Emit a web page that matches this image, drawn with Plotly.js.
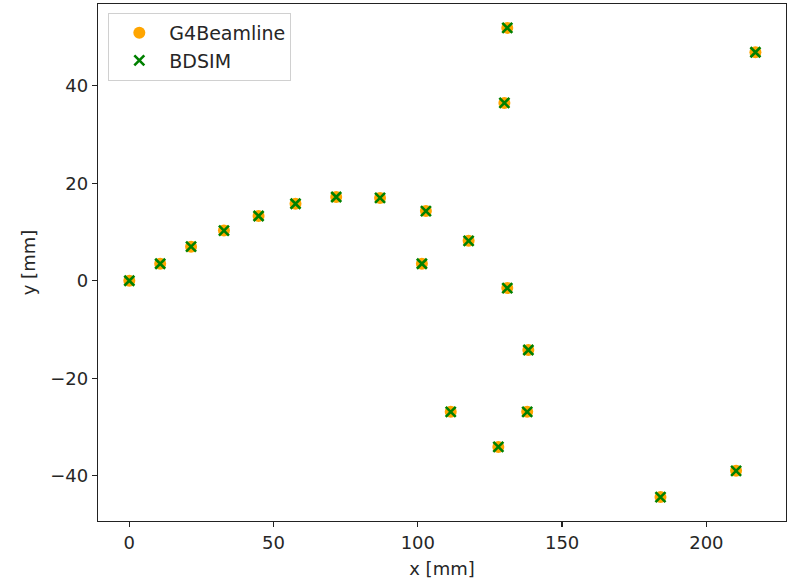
<!DOCTYPE html>
<html>
<head>
<meta charset="utf-8">
<script src="https://cdn.plot.ly/plotly-3.0.1.min.js"></script>
<style>html,body{margin:0;padding:0;background:#fff;}#chart{width:788px;height:582px;}</style>
</head>
<body>
<div id="chart"></div>
<script>
const xG4 = [0, 10.7, 21.4, 32.8, 44.8, 57.6, 71.7, 86.9, 102.8, 117.6, 101.4, 131.0, 138.3, 137.9, 111.4, 127.9, 130.0, 131.0, 184.1, 210.3, 217.0];
const yG4 = [0, 3.5, 7.0, 10.3, 13.3, 15.8, 17.2, 17.0, 14.3, 8.2, 3.5, -1.5, -14.2, -26.9, -26.9, -34.1, 36.5, 51.9, -44.4, -39.0, 46.9];
const xBD = xG4.slice();
const yBD = yG4.slice();
const seriesNames = ["G4Beamline", "BDSIM"];
const xTicks = [0, 50, 100, 150, 200];
const yTicks = [-40, -20, 0, 20, 40];

const font = {family: "DejaVu Sans, sans-serif", size: 18, color: "#262626"};
const legendFont = {family: "DejaVu Sans, sans-serif", size: 19, color: "#262626"};

const traces = [
  {x: xG4, y: yG4, name: seriesNames[0], type: "scatter", mode: "markers",
   marker: {color: "#ffa500", size: 12, symbol: "circle"}},
  {x: xBD, y: yBD, name: seriesNames[1], type: "scatter", mode: "markers",
   marker: {color: "#008000", size: 10, symbol: "x-thin", line: {color: "#008000", width: 2.6}}}
];

const axisCommon = {
  showline: true, linecolor: "#222", linewidth: 1.2, mirror: true,
  ticks: "outside", ticklen: 5, tickwidth: 1.2, tickcolor: "#222",
  showgrid: false, zeroline: false, tickfont: font
};

const layout = {
  width: 788, height: 582,
  margin: {l: 98, r: 2, t: 4, b: 61},
  paper_bgcolor: "#fff", plot_bgcolor: "#fff",
  font: font,
  showlegend: true,
  legend: {x: 0.015, y: 0.983, xanchor: "left", yanchor: "top",
           bgcolor: "rgba(255,255,255,0.8)", bordercolor: "#d0d0d0", borderwidth: 1,
           font: legendFont, itemwidth: 50, traceorder: "normal"},
  xaxis: Object.assign({}, axisCommon, {range: [-10.85, 227.6], tickvals: xTicks,
           title: {text: "x [mm]", font: font, standoff: 10}}),
  yaxis: Object.assign({}, axisCommon, {range: [-49.3, 56.8], tickvals: yTicks,
           title: {text: "y [mm]", font: font, standoff: 10}})
};

Plotly.newPlot("chart", traces, layout, {displayModeBar: false, staticPlot: true});
</script>
</body>
</html>
